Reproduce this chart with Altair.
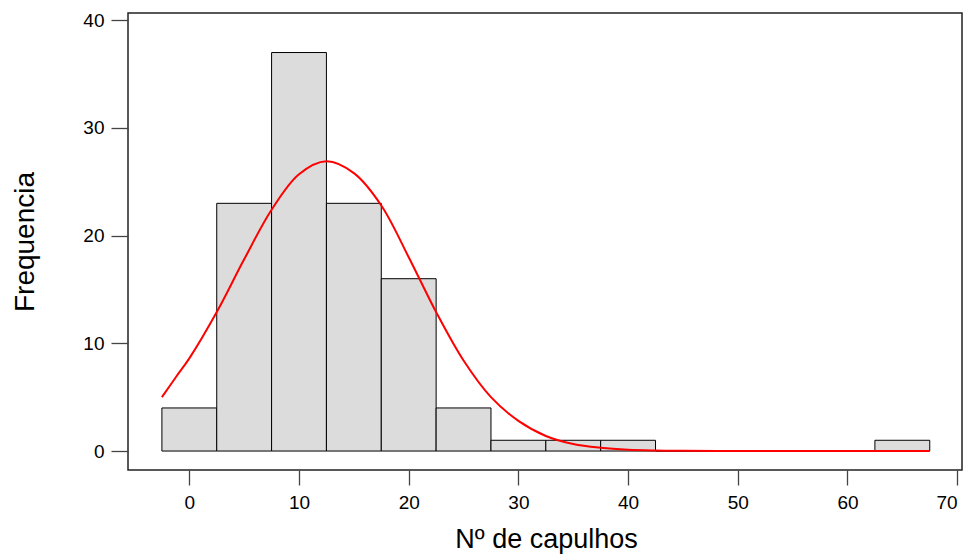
import altair as alt
import pandas as pd

# Histogram bins (lower edges), bin width and counts
bin_start = [-2.5, 2.5, 7.5, 12.5, 17.5, 22.5, 27.5, 32.5, 37.5, 42.5, 47.5, 52.5, 57.5, 62.5]
bin_width = 5
counts = [4, 23, 37, 23, 16, 4, 1, 1, 1, 0, 0, 0, 0, 1]

# Fitted normal curve
curve_x = [-2.5, -1.2, 0, 2.5, 5, 7.5, 10, 12.5, 15, 17.5, 20, 22.5, 25, 27.5,
           30, 32.5, 35, 37.5, 40, 42.5, 45, 50, 55, 60, 65, 67.5]
curve_y = [5.0, 6.9, 8.6, 12.9, 17.8, 22.4, 25.7, 26.9, 25.8, 22.8, 18.0, 12.9, 8.4, 5.0,
           2.8, 1.4, 0.65, 0.3, 0.12, 0.05, 0.02, 0.0, 0.0, 0.0, 0.0, 0.0]

x_ticks = [0, 10, 20, 30, 40, 50, 60, 70]
y_ticks = [0, 10, 20, 30, 40]

hist = pd.DataFrame({
    "x0": bin_start,
    "x1": [b + bin_width for b in bin_start],
    "y0": [0] * len(bin_start),
    "count": counts,
})
curve = pd.DataFrame({"x": curve_x, "y": curve_y})

FONT = "Liberation Sans"

x_scale = alt.Scale(domain=[-5.59, 70.44], nice=False, zero=False)
y_scale = alt.Scale(domain=[-1.76, 40.67], nice=False, zero=False)

x_axis = alt.Axis(
    values=x_ticks, domain=False, grid=False, tickSize=15, tickColor="#444",
    tickWidth=1.3, labelFontSize=19, labelColor="black", labelFont=FONT,
    labelPadding=8, labelFlush=8, title="Nº de capulhos", titleFontSize=27,
    titleFont=FONT, titleFontWeight="normal", titleColor="black",
    titleBaseline="alphabetic", titleY=77, titleX=418, titleAlign="center",
)
y_axis = alt.Axis(
    values=y_ticks, domain=False, grid=False, tickSize=17, tickColor="#444",
    tickWidth=1.3, labelFontSize=19, labelColor="black", labelFont=FONT,
    labelPadding=7, title="Frequencia", titleFontSize=28, titleFont=FONT,
    titleFontWeight="normal", titleColor="black", titleBaseline="alphabetic",
    titleX=-95, titleY=228.5, titleAlign="center", titleAngle=-90,
)

bars = alt.Chart(hist).mark_rect(
    fill="#dcdcdc", stroke="black", strokeWidth=1
).encode(
    x=alt.X("x0:Q", scale=x_scale, axis=x_axis),
    x2="x1:Q",
    y=alt.Y("y0:Q", scale=y_scale, axis=y_axis),
    y2="count:Q",
)

line = alt.Chart(curve).mark_line(
    color="red", strokeWidth=2, interpolate="catmull-rom"
).encode(
    x=alt.X("x:Q", scale=x_scale),
    y=alt.Y("y:Q", scale=y_scale),
)

chart = alt.layer(bars, line).properties(
    width=834,
    height=457,
    autosize=alt.AutoSizeParams(type="none"),
    padding={"left": 120, "top": 5, "right": 1, "bottom": 84},
    background="white",
).configure_view(
    stroke="#222", strokeWidth=1.5
)

chart.save("out.html", embed_options={"renderer": "svg", "actions": False})
